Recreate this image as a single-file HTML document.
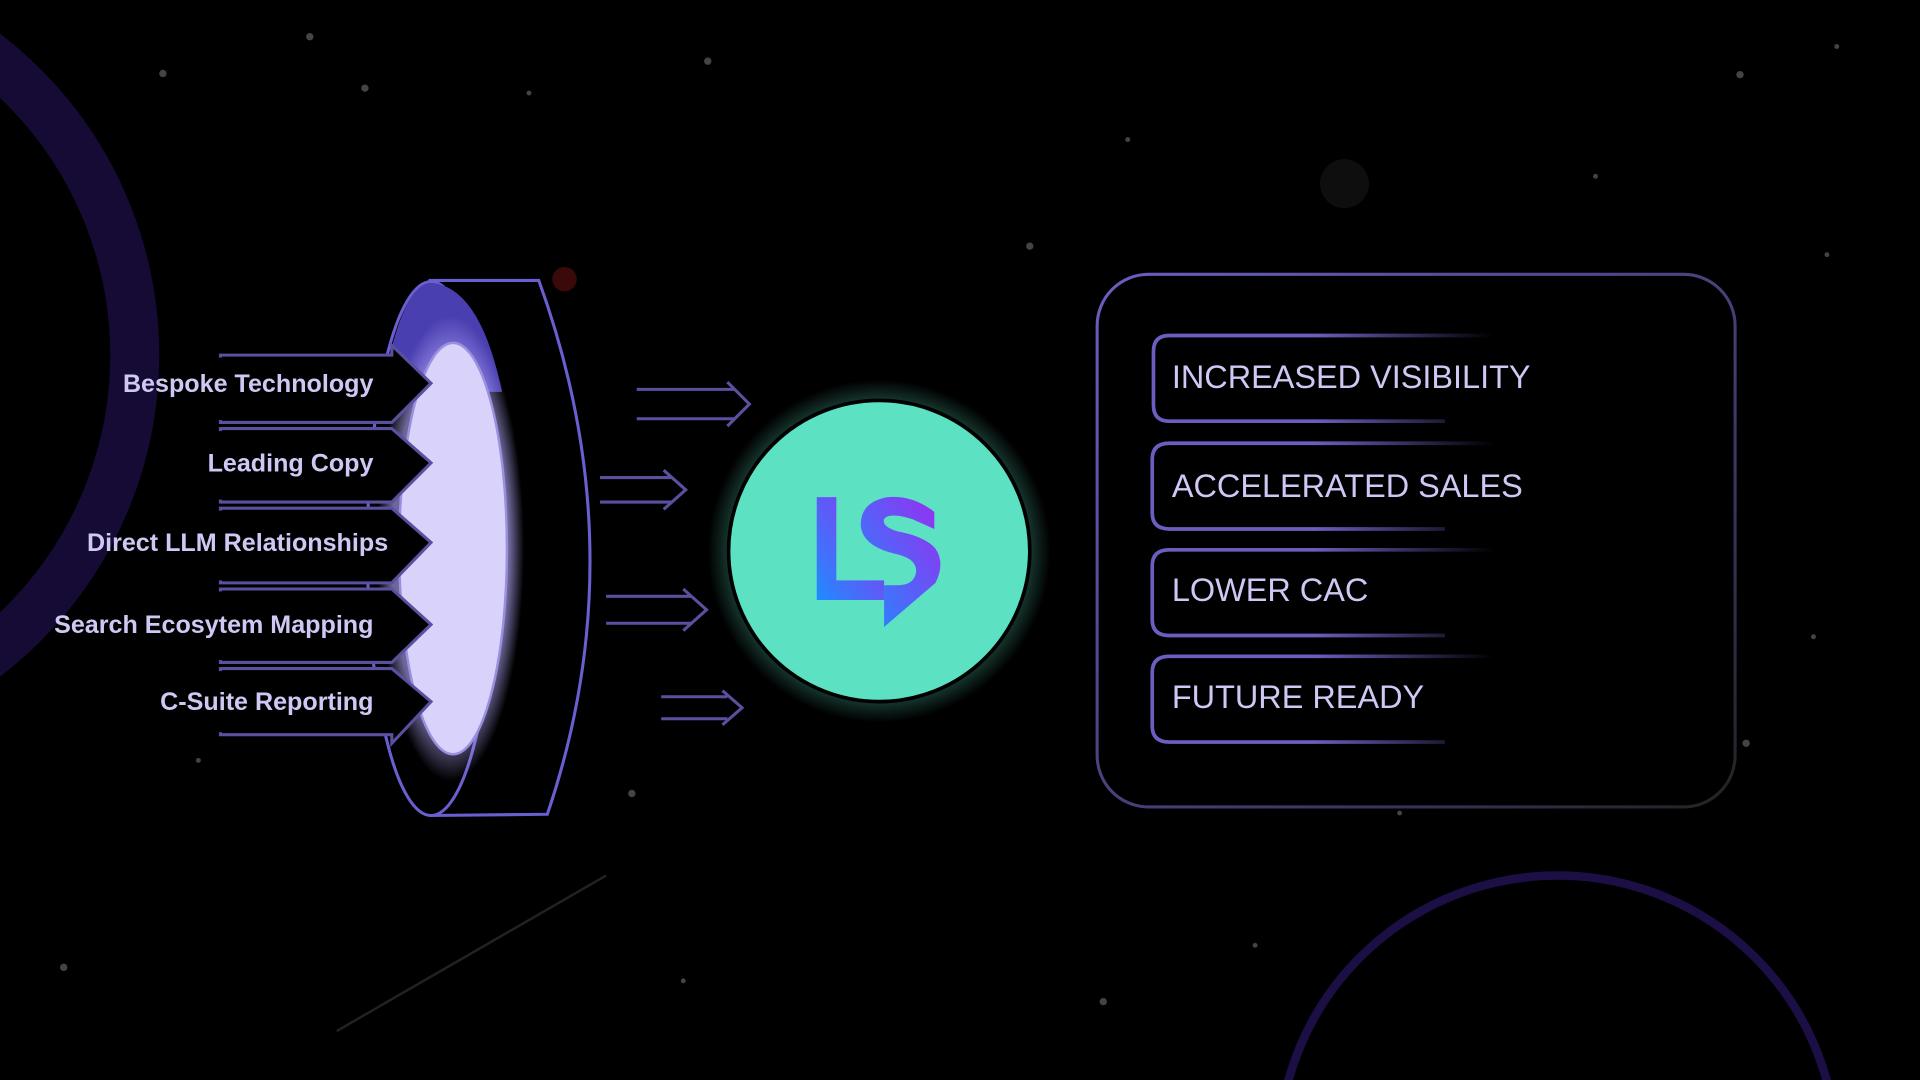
<!DOCTYPE html>
<html><head><meta charset="utf-8"><style>
html,body{margin:0;padding:0;background:#000;width:1920px;height:1080px;overflow:hidden}
svg{display:block;position:absolute;left:0;top:0;overflow:hidden}
text{font-family:"Liberation Sans",sans-serif}
</style></head><body>
<svg width="1920" height="1080" viewBox="0 0 1568 882" xmlns="http://www.w3.org/2000/svg">
<defs>
<radialGradient id="glow" cx="50%" cy="50%" r="50%">
<stop offset="0.75" stop-color="#5ce1c2" stop-opacity="0.5"/>
<stop offset="1" stop-color="#5ce1c2" stop-opacity="0"/>
</radialGradient>
<radialGradient id="iglow" cx="50%" cy="50%" r="50%">
<stop offset="0.8" stop-color="#b6acff" stop-opacity="0.6"/>
<stop offset="1" stop-color="#b6acff" stop-opacity="0"/>
</radialGradient>
<linearGradient id="boxg" x1="0" y1="0" x2="1" y2="0">
<stop offset="0" stop-color="#6a5fc0"/><stop offset="0.45" stop-color="#6a5fc0"/><stop offset="0.95" stop-color="#6a5fc0" stop-opacity="0"/>
</linearGradient>
<linearGradient id="outerg" x1="0" y1="0" x2="1" y2="1">
<stop offset="0" stop-color="#6a5fc0"/><stop offset="0.7" stop-color="#3a3560"/><stop offset="1" stop-color="#222"/>
</linearGradient>
<linearGradient id="logo" x1="0" y1="1" x2="1" y2="0">
<stop offset="0" stop-color="#1f8cff"/><stop offset="1" stop-color="#9a2cf0"/>
</linearGradient>
</defs>
<rect width="1568" height="882" fill="#000"/>
<circle cx="-200" cy="290" r="310" fill="none" stroke="#150b35" stroke-width="40"/>
<circle cx="1272" cy="943" r="228" fill="none" stroke="#1c0f45" stroke-width="7"/>
<g fill="#444">
<circle cx="253" cy="30" r="3"/><circle cx="133" cy="60" r="3"/><circle cx="298" cy="72" r="3"/><circle cx="578" cy="50" r="3"/><circle cx="1421" cy="61" r="3"/><circle cx="841" cy="201" r="3"/><circle cx="1303" cy="144" r="2"/><circle cx="516" cy="648" r="3"/><circle cx="901" cy="818" r="3"/><circle cx="52" cy="790" r="3"/><circle cx="1426" cy="607" r="3"/><circle cx="162" cy="621" r="2"/><circle cx="1025" cy="772" r="2"/><circle cx="1143" cy="664" r="2"/><circle cx="1500" cy="38" r="2"/><circle cx="1492" cy="208" r="2"/><circle cx="921" cy="114" r="2"/><circle cx="432" cy="76" r="2"/><circle cx="558" cy="801" r="2"/><circle cx="1481" cy="520" r="2"/>
</g>
<circle cx="1098" cy="150" r="20" fill="#0e0e0e"/>
<line x1="275" y1="842" x2="495" y2="715" stroke="#222" stroke-width="2"/>
<circle cx="461" cy="228" r="10" fill="#3a0a0a"/>
<path d="M350 229 L440 229 Q520 450 447 665 L350 666" fill="#000" stroke="#6a5fd0" stroke-width="2.5"/>
<ellipse cx="352" cy="448" rx="52" ry="218" fill="#000" stroke="#6a5fd0" stroke-width="2.5"/>
<path d="M312 320 Q328 232 352 231 Q392 234 410 320 Z" fill="#4a3fb0"/>
<ellipse cx="368" cy="448" rx="60" ry="190" fill="url(#iglow)"/>
<ellipse cx="370" cy="448" rx="44" ry="168" fill="#d9d3fb" stroke="#9a90e0" stroke-width="2"/>
<g fill="#000" stroke="#5a50a0" stroke-width="2.5" stroke-linejoin="miter">
<path d="M180 290 L320 290 L320 282 L352 313 L320 345 L180 345 Z"/>
<path d="M180 350 L320 350 L352 378 L320 410 L180 410 Z"/>
<path d="M180 415 L320 415 L352 443 L320 476 L180 476 Z"/>
<path d="M180 481 L320 481 L352 510 L320 541 L180 541 Z"/>
<path d="M180 546 L320 546 L352 573 L320 607 L320 600 L180 600 Z"/>
</g>
<g fill="#000"><rect x="150" y="292" width="168" height="51"/><rect x="150" y="352" width="168" height="56"/><rect x="150" y="417" width="168" height="57"/><rect x="150" y="483" width="168" height="56"/><rect x="150" y="548" width="168" height="50"/></g>
<g font-size="20.5" font-weight="bold" fill="#cfc8f5" text-anchor="end">
<text x="305" y="320">Bespoke Technology</text>
<text x="305" y="385">Leading Copy</text>
<text x="317" y="450">Direct LLM  Relationships</text>
<text x="305" y="517">Search Ecosytem Mapping</text>
<text x="305" y="580">C-Suite Reporting</text>
</g>
<g fill="none" stroke="#5a50a0" stroke-width="2.5">
<path d="M520 318 L600 318 M520 342 L600 342 M594 312 L612 330 L594 348"/>
<path d="M490 390 L548 390 M490 410 L548 410 M542 384 L560 400 L542 416"/>
<path d="M495 487 L565 487 M495 509 L565 509 M558 481 L577 498 L558 515"/>
<path d="M540 569 L594 569 M540 587 L594 587 M590 564 L606 578 L590 592"/>
</g>
<circle cx="718" cy="450" r="140" fill="url(#glow)"/>
<circle cx="718" cy="450" r="123" fill="#5ce1c2" stroke="#000" stroke-width="3"/>
<path d="M667 406 L683 406 L683 474 L722 474 L722 490 L667 490 Z" fill="url(#logo)"/>
<path d="M763 418 Q745 404 725 406 Q702 410 703 430 Q705 446 730 452 Q750 456 748 468 Q746 478 733 478 L722 478 L722 512 L764 476 Q772 460 764 448 Q755 438 733 434 Q720 430 722 424 Q726 418 745 424 L763 432 Z" fill="url(#logo)"/>
<rect x="896" y="224" width="521" height="435" rx="42" fill="none" stroke="url(#outerg)" stroke-width="2.5"/>
<g fill="none" stroke="url(#boxg)" stroke-width="3">
<path d="M1235 274 L955 274 Q942 274 942 287 L942 331 Q942 344 955 344 L1180 344"/>
<path d="M1235 362 L955 362 Q941 362 941 375 L941 419 Q941 432 955 432 L1180 432"/>
<path d="M1235 449 L955 449 Q941 449 941 462 L941 506 Q941 519 955 519 L1180 519"/>
<path d="M1235 536 L955 536 Q941 536 941 549 L941 593 Q941 606 955 606 L1180 606"/>
</g>
<g font-size="26.5" fill="#cfc8f5">
<text x="957" y="317">INCREASED VISIBILITY</text>
<text x="957" y="406">ACCELERATED SALES</text>
<text x="957" y="491">LOWER CAC</text>
<text x="957" y="578">FUTURE READY</text>
</g>
</svg>
</body></html>
